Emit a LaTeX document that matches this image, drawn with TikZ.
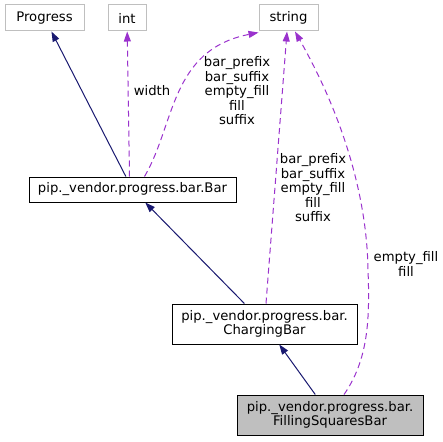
\documentclass[tikz,border=0pt]{standalone}
\usepackage{fontspec}
\setmainfont{DejaVu Sans}
\usetikzlibrary{arrows.meta}
\definecolor{navy}{RGB}{25, 25, 112}
\definecolor{orchid}{RGB}{154, 50, 205}
\definecolor{lightedge}{RGB}{191, 191, 191}

\begin{document}
\begin{tikzpicture}[x=1pt, y=-1pt, >={Triangle[length=10pt, width=7pt]},
  every node/.style={font=\fontsize{13.2}{14.5}\selectfont, inner sep=0pt, align=center},
  ext/.style={draw=lightedge, line width=1pt, minimum height=26},
  cls/.style={draw=black, line width=1pt},
  inh/.style={->, navy, line width=1pt},
  use/.style={->, orchid, line width=1pt, dash pattern=on 6pt off 4pt}]

  \useasboundingbox (0, 0) rectangle (443, 441);

  % classes
  \node[ext, minimum width=79] (progress) at (44.5, 18) {Progress};
  \node[ext, minimum width=38] (intT) at (127, 18) {int};
  \node[ext, minimum width=59] (str) at (288.5, 18) {string};

  \node[cls, minimum width=207, minimum height=25] (bar) at (132.5, 189.5) {pip.\_vendor.progress.bar.Bar};
  \node[cls, minimum width=185, minimum height=40] (charging) at (264.5, 324) {pip.\_vendor.progress.bar.\\ChargingBar};
  \node[cls, fill=lightedge, minimum width=186, minimum height=40] (filling) at (330, 415) {pip.\_vendor.progress.bar.\\FillingSquaresBar};

  % inheritance
  \draw[inh] (bar) -- (progress);
  \draw[inh] (charging) -- (bar);
  \draw[inh] (filling) -- (charging);

  % members
  \draw[use] ([xshift=-3]bar.north) -- (intT);
  \node (lwidth) at (152, 91) {width};

  \draw[use] ([xshift=12]bar.north) .. controls (175, 125) and (170, 50) .. ([yshift=-1]str.south west);
  \node (lbar) at (237, 91) {bar\_prefix\\bar\_suffix\\empty\_fill\\fill\\suffix};

  \draw[use] ([xshift=1.5]charging.north) -- ([xshift=-1.5]str.south);
  \node (lcharging) at (313, 188) {bar\_prefix\\bar\_suffix\\empty\_fill\\fill\\suffix};

  \draw[use] ([xshift=14]filling.north) .. controls (368, 360) and (370, 320) .. (368, 270)
    .. controls (367, 200) and (345, 120) .. ([xshift=6.5]str.south);
  \node (lfilling) at (406, 264) {empty\_fill\\fill};

\end{tikzpicture}
\end{document}
